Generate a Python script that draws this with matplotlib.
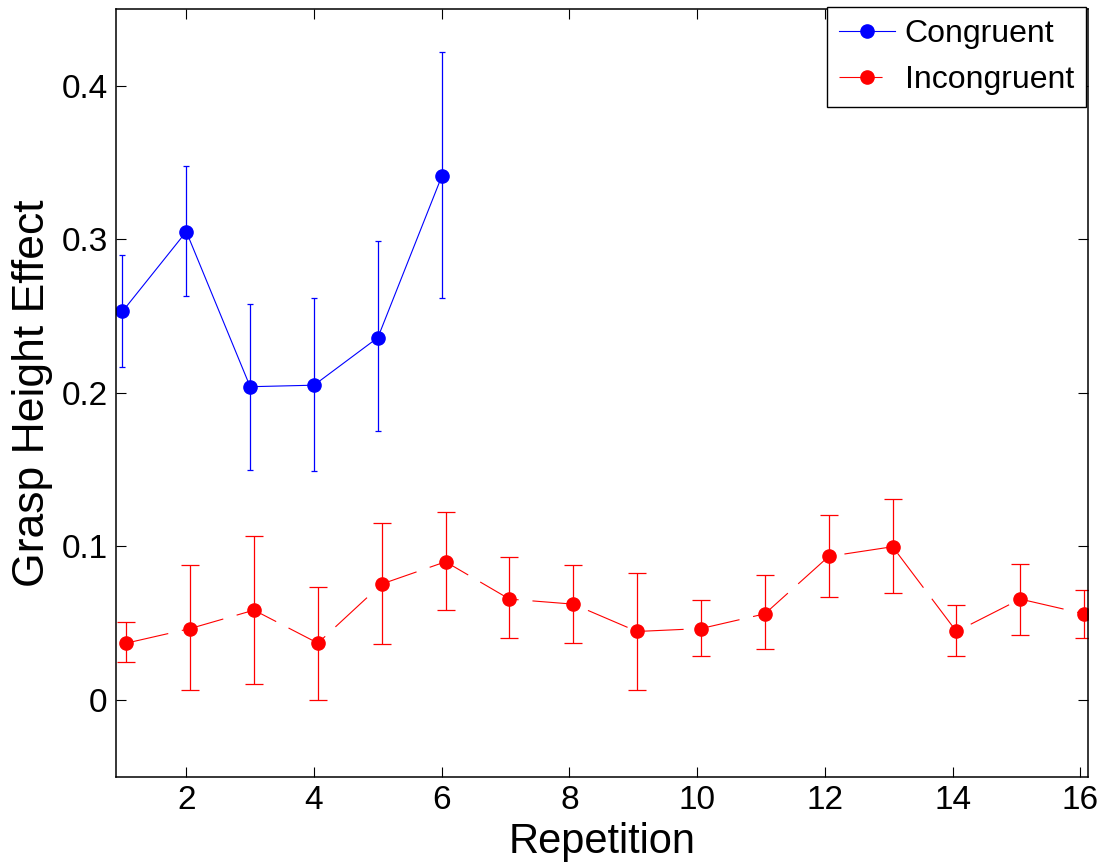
import matplotlib.pyplot as plt
import numpy as np

plt.rcParams['font.family'] = ['Liberation Sans', 'DejaVu Sans']
plt.rcParams['lines.scale_dashes'] = False

# Congruent condition (repetitions 1-6)
cong_x = [1, 2, 3, 4, 5, 6]
cong_y = [0.253, 0.305, 0.204, 0.205, 0.236, 0.341]
cong_lo = [0.217, 0.263, 0.150, 0.149, 0.175, 0.262]
cong_hi = [0.290, 0.348, 0.258, 0.262, 0.299, 0.422]

# Incongruent condition (repetitions 1-16)
incong_x = [1, 2, 3, 4, 5, 6, 7, 8, 9, 10, 11, 12, 13, 14, 15, 16]
incong_y = [0.037, 0.0465, 0.0585, 0.037, 0.0755, 0.090, 0.0657, 0.0624,
            0.0446, 0.0465, 0.0561, 0.0935, 0.0998, 0.0446, 0.0657, 0.0561]
incong_lo = [0.0246, 0.0065, 0.0107, 0.0, 0.0363, 0.0587, 0.0404, 0.0374,
             0.0065, 0.0289, 0.0333, 0.0672, 0.0696, 0.0289, 0.0426, 0.0404]
incong_hi = [0.0505, 0.0876, 0.1068, 0.0735, 0.1152, 0.1224, 0.0928, 0.0876,
             0.083, 0.065, 0.0811, 0.1205, 0.131, 0.0617, 0.0885, 0.0715]

xticks = [2, 4, 6, 8, 10, 12, 14, 16]
yticks = [0, 0.1, 0.2, 0.3, 0.4]
ytick_labels = ['0', '0.1', '0.2', '0.3', '0.4']

x_shift = 0.06  # incongruent points drawn slightly to the right

fig = plt.figure(figsize=(10.99, 8.64), dpi=100)
ax = fig.add_axes([0.1056, 0.101, 0.8844, 0.8886])

cy = np.array(cong_y)
eb1 = ax.errorbar(cong_x, cy,
                  yerr=[cy - np.array(cong_lo), np.array(cong_hi) - cy],
                  color='#0000ff', marker='o', markersize=9.5, lw=0.8,
                  elinewidth=0.9, capsize=2.2, capthick=0.9)

iy = np.array(incong_y)
eb2 = ax.errorbar(np.array(incong_x) + x_shift, iy,
                  yerr=[iy - np.array(incong_lo), np.array(incong_hi) - iy],
                  color='#ff0000', marker='o', markersize=9.5, lw=0.8,
                  linestyle=(0, (31, 10)),
                  elinewidth=0.9, capsize=6.5, capthick=0.9)

ax.set_xlim(0.9, 16.12)
ax.set_ylim(-0.05, 0.45)
ax.set_xticks(xticks)
ax.set_yticks(yticks)
ax.set_yticklabels(ytick_labels)
ax.tick_params(direction='in', length=7, width=0.8, top=True, right=True,
               labelsize=24, pad=6)
for s in ax.spines.values():
    s.set_linewidth(1.1)

ax.set_xlabel('Repetition', fontsize=30, labelpad=4)
ax.set_ylabel('Grasp Height Effect', fontsize=32, labelpad=6)

leg = ax.legend([eb1[0], eb2[0]], ['Congruent', 'Incongruent'],
                loc='upper right', bbox_to_anchor=(0.998, 1.003),
                borderaxespad=0, fontsize=23, fancybox=False,
                framealpha=1, edgecolor='black', handlelength=1.75,
                handletextpad=0.3, labelspacing=0.5, borderpad=0.38)
leg.get_frame().set_linewidth(1.0)

fig.savefig('out.png', dpi=100)
